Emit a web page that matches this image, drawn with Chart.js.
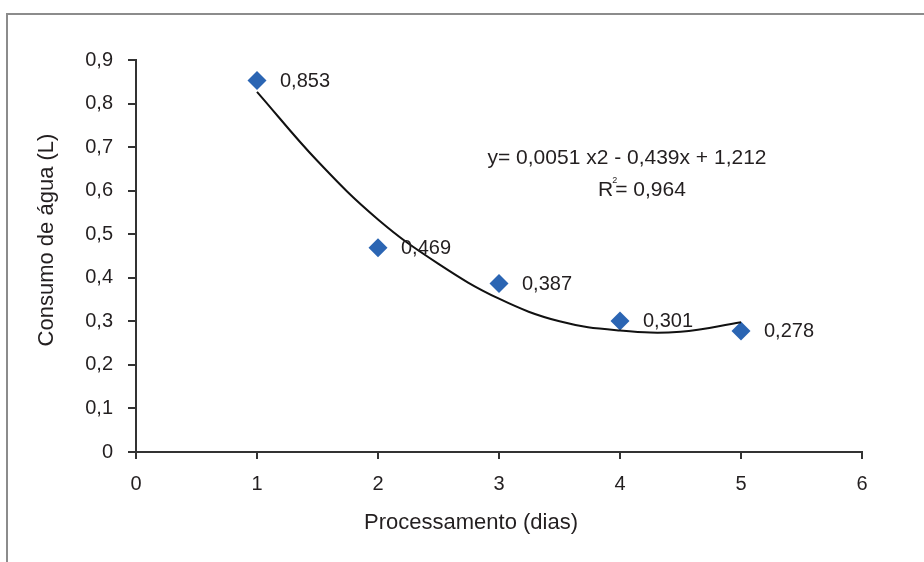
<!DOCTYPE html>
<html>
<head>
<meta charset="utf-8">
<script src="https://cdn.jsdelivr.net/npm/chart.js@4/dist/chart.umd.min.js"></script>
<style>
  html, body { margin: 0; padding: 0; background: #fff; }
  canvas { display: block; }
</style>
</head>
<body>
<canvas id="chart" width="924" height="562"></canvas>
<script>
// dados
const dias = [1, 2, 3, 4, 5];
const consumo = [0.853, 0.469, 0.387, 0.301, 0.278];
const rotulos = ['0,853', '0,469', '0,387', '0,301', '0,278'];

// linha de tendência (lida ponto a ponto na figura)
const tendX = [1, 1.5, 2, 2.5, 3, 3.5, 4, 4.5, 5];
const tendY = [0.827, 0.668, 0.534, 0.432, 0.352, 0.300, 0.279, 0.276, 0.298];

const xTickLabels = ['0', '1', '2', '3', '4', '5', '6'];
const yTickLabels = ['0', '0,1', '0,2', '0,3', '0,4', '0,5', '0,6', '0,7', '0,8', '0,9'];

const eqLine1 = 'y= 0,0051 x2 - 0,439x + 1,212';
const eqR2 = '0,964';
const xTitle = 'Processamento (dias)';
const yTitle = 'Consumo de água (L)';

const FONT = "'Liberation Sans', Arial, sans-serif";
const INK = '#231f20';
const BLUE = '#2b65b3';

// moldura cinza (topo e esquerda), títulos, equação
const decor = {
  id: 'decor',
  beforeDraw(chart) {
    const c = chart.ctx;
    c.save();
    c.strokeStyle = '#8c8c8c';
    c.lineWidth = 2;
    c.beginPath();
    c.moveTo(7, 562);
    c.lineTo(7, 14);
    c.lineTo(924, 14);
    c.stroke();
    c.restore();
  },
  afterDraw(chart) {
    const c = chart.ctx;
    c.save();
    c.fillStyle = INK;
    c.textBaseline = 'middle';
    c.textAlign = 'center';
    c.font = '22px ' + FONT;
    c.fillText(xTitle, 471, 523);
    c.save();
    c.translate(47, 240);
    c.rotate(-Math.PI / 2);
    c.fillText(yTitle, 0, 0);
    c.restore();

    // equação
    c.font = '21px ' + FONT;
    c.fillText(eqLine1, 627, 158);
    const rW = c.measureText('R').width;
    const restTxt = '= ' + eqR2;
    const restW = c.measureText(restTxt).width;
    const total = rW + 2 + restW;
    let x0 = 642 - total / 2;
    c.textAlign = 'left';
    c.fillText('R', x0, 190);
    c.font = '9px ' + FONT;
    c.fillText('2', x0 + rW - 1, 181);
    c.font = '21px ' + FONT;
    c.fillText(restTxt, x0 + rW + 2, 190);
    c.restore();
  }
};

// rótulos dos pontos
const pointLabels = {
  id: 'pointLabels',
  afterDatasetsDraw(chart) {
    const meta = chart.getDatasetMeta(1);
    const c = chart.ctx;
    c.save();
    c.fillStyle = INK;
    c.font = '20px ' + FONT;
    c.textAlign = 'left';
    c.textBaseline = 'middle';
    meta.data.forEach((pt, i) => {
      c.fillText(rotulos[i], pt.x + 23, pt.y + 1);
    });
    c.restore();
  }
};

const ctx = document.getElementById('chart').getContext('2d');
new Chart(ctx, {
  type: 'scatter',
  data: {
    datasets: [
      {
        type: 'line',
        data: tendX.map((x, i) => ({ x, y: tendY[i] })),
        borderColor: '#111',
        borderWidth: 2,
        pointRadius: 0,
        tension: 0.4,
        fill: false
      },
      {
        data: dias.map((x, i) => ({ x, y: consumo[i] })),
        pointStyle: 'rectRot',
        pointRadius: 9.5,
        backgroundColor: BLUE,
        borderColor: BLUE,
        borderWidth: 0
      }
    ]
  },
  options: {
    responsive: false,
    animation: false,
    layout: { padding: { left: 0, right: 62, top: 60, bottom: 0 } },
    plugins: { legend: { display: false }, tooltip: { enabled: false } },
    scales: {
      x: {
        type: 'linear', min: 0, max: 6,
        afterFit: s => { s.height = 110; },
        ticks: {
          stepSize: 1, padding: 13, color: INK,
          font: { family: FONT, size: 20 },
          callback: (v, i) => xTickLabels[i]
        },
        grid: { drawOnChartArea: false, drawTicks: true, tickLength: 7, color: '#333', lineWidth: 2 },
        border: { color: '#333', width: 2 }
      },
      y: {
        min: 0, max: 0.9,
        afterFit: s => { s.width = 136; },
        ticks: {
          stepSize: 0.1, padding: 15, color: INK,
          font: { family: FONT, size: 20 },
          callback: (v, i) => yTickLabels[i]
        },
        grid: { drawOnChartArea: false, drawTicks: true, tickLength: 8, color: '#333', lineWidth: 2 },
        border: { color: '#333', width: 2 }
      }
    }
  },
  plugins: [decor, pointLabels]
});
</script>
</body>
</html>
